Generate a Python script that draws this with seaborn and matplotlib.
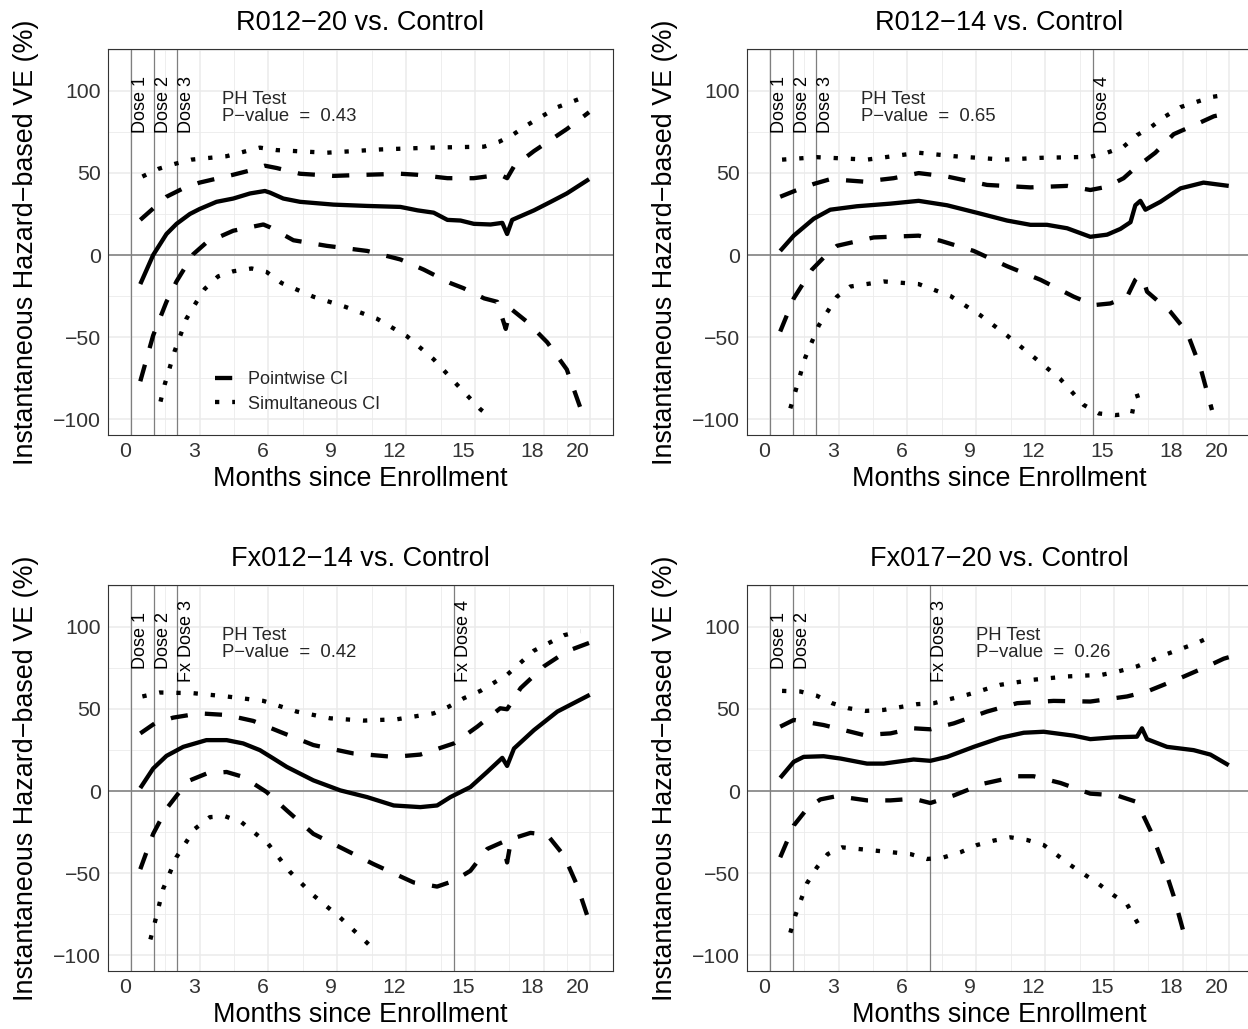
import matplotlib
matplotlib.use("Agg")
import matplotlib.pyplot as plt
from matplotlib.lines import Line2D
import pandas as pd
import seaborn as sns

sns.set_style("white")
plt.rcParams['font.family'] = ['Liberation Sans', 'DejaVu Sans']
plt.rcParams['axes.unicode_minus'] = True

# ---------------- data ----------------
titles = ["R012\u221220 vs. Control", "R012\u221214 vs. Control",
          "Fx012\u221214 vs. Control", "Fx017\u221220 vs. Control"]
p_values = ["0.43", "0.65", "0.42", "0.26"]
ph_text_x = [4.0, 4.0, 4.0, 9.0]
dose_times = [[0, 1, 2], [0, 1, 2, 14.1], [0, 1, 2, 14.1], [0, 1, 7.0]]
dose_labels = [["Dose 1", "Dose 2", "Dose 3"],
               ["Dose 1", "Dose 2", "Dose 3", "Dose 4"],
               ["Dose 1", "Dose 2", "Fx Dose 3", "Fx Dose 4"],
               ["Dose 1", "Dose 2", "Fx Dose 3"]]
x_ticks = [0, 3, 6, 9, 12, 15, 18, 20]
y_ticks = [-100, -50, 0, 50, 100]

# Panel 1: R012-20
p1_est_x = [0.42, 0.98, 1.56, 2.0, 2.58, 3.0, 3.74, 4.47, 5.2, 5.85, 6.07, 6.65, 7.38, 8.84, 10.3, 11.75, 12.5, 13.2, 13.8, 14.37, 14.95, 15.68, 16.19, 16.4, 16.62, 17.57, 18.3, 19.0, 19.97]
p1_est_y = [-17.7, 0, 12.8, 19, 25, 28, 32.4, 34.4, 37.5, 39, 38, 34.4, 32.4, 30.7, 29.9, 29.3, 27.2, 25.8, 21.4, 21, 19, 18.6, 19.6, 12.8, 21.4, 27.2, 32.4, 37.5, 46.2]
p1_pwu_x = [0.42, 1.56, 2.29, 3.0, 4.47, 5.2, 5.85, 6.36, 7.38, 8.84, 10.3, 11.75, 12.47, 13.8, 14.95, 16.1, 16.4, 16.7, 17.57, 19.0, 19.97]
p1_pwu_y = [21.4, 35.5, 40.6, 44.1, 48.9, 51.5, 54.4, 53, 49.5, 48.2, 48.9, 49.5, 48.9, 46.8, 46.8, 48.9, 46.8, 54, 63.3, 76.7, 87]
p1_pwl_x = [0.42, 0.98, 1.56, 2.0, 2.72, 3.3, 4.47, 5.78, 6.07, 7.09, 8.54, 10.3, 11.75, 12.77, 13.93, 14.5, 15.4, 15.97, 16.34, 16.55, 17.28, 18.15, 19.0, 19.6]
p1_pwl_y = [-76.9, -49, -28.5, -16, 0.4, 7.6, 14.8, 18.6, 16.9, 9, 5.6, 2.5, -2.7, -8.9, -17.1, -20.2, -26.4, -28.5, -45, -32.6, -40.8, -53.2, -69.7, -93.4]
p1_siu_x = [0.51, 1.19, 1.92, 2.65, 4.18, 5.63, 6.36, 8.54, 10.87, 13.06, 15.39, 16.04, 16.62, 17.28, 18.6, 19.97]
p1_siu_y = [47.8, 52.4, 55.5, 58.1, 60.2, 65.4, 63.9, 62.3, 64.3, 65.4, 66, 68.9, 73, 79.2, 90.1, 97.3]
p1_sil_x = [1.3, 1.48, 1.92, 2.43, 2.87, 3.23, 3.81, 4.47, 5.27, 5.92, 6.58, 7.96, 9.34, 10.73, 12.04, 13.2, 14.22, 15.24, 15.75]
p1_sil_y = [-89.3, -79, -58.4, -38.8, -28.5, -20.6, -13, -9.9, -8.2, -10.3, -17.1, -25.4, -31.5, -38.8, -49.5, -63.5, -79, -94, -99.6]

# Panel 2: R012-14
p2_est_x = [0.46, 1.05, 1.92, 2.64, 3.8, 5.26, 6.49, 7.73, 9.18, 10.34, 11.36, 12.08, 12.96, 13.97, 14.7, 15.28, 15.72, 15.93, 16.15, 16.37, 17.02, 17.9, 18.9, 20.0]
p2_est_y = [2.5, 11.8, 22.1, 27.6, 29.7, 31.3, 33, 30.3, 25.2, 21, 18.4, 18.4, 16.3, 11.1, 12.4, 15.9, 20, 30.3, 33, 27.6, 32.4, 40.6, 44.1, 42.1]
p2_pwu_x = [0.46, 1.12, 1.92, 2.64, 4.1, 5.4, 6.49, 7.73, 9.47, 11.36, 12.96, 13.97, 14.7, 15.42, 16.0, 16.37, 16.8, 17.6, 18.77, 19.35, 20.0]
p2_pwu_y = [35.5, 39.2, 43.3, 46.2, 44.7, 46.8, 49.9, 47.8, 42.7, 41.2, 42.1, 39.6, 41.6, 46.8, 54, 57.7, 62.3, 73.6, 80.8, 84.5, 86.5]
p2_pwl_x = [0.46, 1.05, 1.84, 2.35, 2.93, 4.53, 6.49, 7.44, 8.89, 10.34, 11.8, 13.25, 14.12, 14.84, 15.57, 15.93, 16.08, 16.3, 16.44, 17.46, 18.18, 18.77, 19.27]
p2_pwl_y = [-46.6, -26.4, -8.9, -1.6, 5.6, 10.7, 11.8, 8.7, 2.5, -6.8, -15.1, -25.4, -30.5, -29.5, -25.4, -15.1, -13, -16.1, -22.3, -34.6, -47, -68.7, -94.4]
p2_siu_x = [0.54, 2.06, 4.24, 6.49, 8.02, 10.2, 11.8, 13.97, 14.7, 15.42, 16.0, 16.59, 17.17, 17.9, 19.27, 19.93]
p2_siu_y = [58.1, 59.6, 58.1, 62.3, 60.2, 58.1, 59.2, 59.8, 62.3, 66, 73, 77.7, 83.9, 90.1, 96.3, 97.7]
p2_sil_x = [0.9, 1.12, 1.55, 2.14, 2.93, 3.51, 4.97, 6.49, 7.87, 9.18, 10.34, 11.5, 12.66, 13.68, 14.34, 15.06, 15.79, 15.93, 16.15]
p2_sil_y = [-93.4, -83.1, -62.5, -42.9, -25.4, -19.2, -16.1, -17.7, -24.9, -36.7, -49, -62.1, -75.5, -91.3, -96.5, -97.5, -96.5, -86.2, -85.2]

# Panel 3: Fx012-14
p3_est_x = [0.42, 0.98, 1.56, 2.29, 3.3, 4.18, 4.9, 5.63, 6.22, 6.8, 7.96, 9.13, 10.3, 11.46, 12.62, 13.35, 13.93, 14.8, 15.53, 16.19, 16.4, 16.7, 17.57, 18.59, 20.0]
p3_est_y = [1.8, 13.7, 21.4, 26.9, 31, 31, 29, 24.9, 19.8, 14.7, 6.5, 0.4, -3.7, -8.8, -9.8, -8.8, -3.7, 2.4, 11.6, 20.2, 15.3, 25.9, 37.1, 48.4, 58.6]
p3_pwu_x = [0.42, 1.05, 1.85, 3.0, 4.18, 5.34, 6.5, 7.96, 9.7, 11.46, 12.62, 14.08, 15.1, 16.1, 16.4, 16.99, 18.0, 19.0, 19.97]
p3_pwu_y = [35.1, 41.2, 44.7, 47.3, 46.3, 42.7, 36.1, 28, 22.9, 20.8, 22.2, 29, 39.2, 50.4, 49.8, 62.7, 75.9, 85.1, 90.2]
p3_pwl_x = [0.42, 0.98, 1.56, 2.07, 2.58, 3.3, 4.18, 4.9, 5.92, 6.8, 7.96, 9.13, 10.58, 12.33, 13.35, 14.08, 14.8, 15.53, 16.19, 16.4, 16.58, 17.42, 18.15, 18.88, 19.46, 19.97]
p3_pwl_y = [-47.6, -26.1, -10.8, -1.6, 6.5, 10.6, 11.6, 8.6, -0.6, -11.8, -26.1, -34.3, -44.5, -55.7, -58.2, -54.7, -48.6, -35.3, -31.2, -43.5, -29.2, -25.5, -26.7, -39.4, -57.8, -79.2]
p3_siu_x = [0.51, 1.27, 2.72, 4.18, 5.78, 7.23, 8.69, 10.15, 11.6, 13.2, 13.86, 14.51, 15.24, 16.4, 17.57, 18.88, 19.6]
p3_siu_y = [57.6, 60, 59.6, 57.6, 54.9, 48.4, 44.3, 42.9, 43.7, 47.3, 51.4, 56.5, 61, 70.8, 85.5, 94.9, 97.3]
p3_sil_x = [0.86, 1.05, 1.41, 1.99, 2.79, 3.45, 4.1, 4.83, 5.99, 6.94, 7.96, 9.13, 10.22, 10.75]
p3_sil_y = [-90.4, -80.2, -59.8, -40.4, -23.1, -15.9, -15.3, -19, -32.2, -49.2, -63.5, -77.1, -91.4, -98.5]

# Panel 4: Fx017-20
p4_est_x = [0.46, 1.05, 1.48, 2.35, 3.08, 4.24, 4.97, 6.27, 7.0, 7.73, 8.89, 10.05, 11.07, 11.94, 13.25, 13.97, 14.99, 16.0, 16.22, 16.44, 17.31, 18.47, 19.2, 20.0]
p4_est_y = [8, 17.8, 20.8, 21.2, 19.8, 16.7, 16.7, 19.2, 18.4, 20.8, 26.9, 32.4, 35.5, 36.1, 33.7, 31.6, 32.7, 33.1, 38.2, 31.6, 26.9, 24.9, 22.2, 15.7]
p4_pwu_x = [0.46, 1.05, 2.35, 4.1, 5.26, 6.27, 7.0, 8.02, 9.47, 10.78, 12.37, 13.97, 15.57, 16.44, 17.89, 19.06, 19.78, 20.0]
p4_pwu_y = [39.2, 43.3, 40.2, 34.1, 35.1, 38.2, 37.6, 41.2, 48.4, 53.5, 54.9, 54.5, 57.6, 60.6, 68.8, 75.9, 80.6, 81.5]
p4_pwl_x = [0.46, 1.05, 1.63, 2.21, 2.93, 4.24, 5.26, 6.27, 7.0, 8.02, 9.32, 10.78, 11.5, 12.67, 13.97, 15.13, 16.0, 16.59, 17.17, 17.6, 18.08]
p4_pwl_y = [-40.4, -21, -10.8, -5.1, -3.1, -5.7, -5.7, -4.7, -7.3, -2.7, 4.5, 9, 9, 4.9, -1.6, -2.7, -6.7, -24.1, -45.5, -63.9, -88.4]
p4_siu_x = [0.54, 1.34, 2.06, 2.72, 3.44, 4.17, 4.97, 6.42, 7.15, 8.6, 10.05, 11.5, 12.96, 14.48, 15.2, 16.0, 17.24, 18.62, 19.35]
p4_siu_y = [61, 60.6, 58, 53.5, 50.4, 48.8, 49.4, 52.9, 53.5, 58.6, 64.7, 67.8, 69.8, 70.8, 72.9, 75.9, 83.1, 90.2, 94.9]
p4_sil_x = [0.9, 1.12, 1.63, 2.06, 2.53, 3.15, 4.6, 6.13, 6.86, 7.58, 8.31, 9.03, 9.76, 10.49, 11.21, 11.94, 13.1, 14.34, 14.99, 15.57, 16.15]
p4_sil_y = [-86.3, -75.7, -56.1, -46.5, -38.4, -34.3, -36.3, -38.4, -41.4, -40.4, -37.3, -32.9, -30.2, -28.2, -29.8, -32.9, -45.1, -56.7, -63.5, -69, -83.3]

panels = [
    [(p1_est_x, p1_est_y, "est"), (p1_pwu_x, p1_pwu_y, "pw"), (p1_pwl_x, p1_pwl_y, "pw"),
     (p1_siu_x, p1_siu_y, "si"), (p1_sil_x, p1_sil_y, "si")],
    [(p2_est_x, p2_est_y, "est"), (p2_pwu_x, p2_pwu_y, "pw"), (p2_pwl_x, p2_pwl_y, "pw"),
     (p2_siu_x, p2_siu_y, "si"), (p2_sil_x, p2_sil_y, "si")],
    [(p3_est_x, p3_est_y, "est"), (p3_pwu_x, p3_pwu_y, "pw"), (p3_pwl_x, p3_pwl_y, "pw"),
     (p3_siu_x, p3_siu_y, "si"), (p3_sil_x, p3_sil_y, "si")],
    [(p4_est_x, p4_est_y, "est"), (p4_pwu_x, p4_pwu_y, "pw"), (p4_pwl_x, p4_pwl_y, "pw"),
     (p4_siu_x, p4_siu_y, "si"), (p4_sil_x, p4_sil_y, "si")],
]

# ---------------- styling ----------------
LW = 3.1
styles = {"est": "-", "pw": (0, (4, 4)), "si": (0, (1, 3))}

W, H = 1248, 1029
fig = plt.figure(figsize=(W / 100, H / 100), dpi=100)
positions = [
    (107.7, 49.3), (746.7, 49.3),
    (107.7, 585.3), (746.7, 585.3),
]
pw_w, pw_h = 505, 386

for i, (px, py) in enumerate(positions):
    ax = fig.add_axes([px / W, 1 - (py + pw_h) / H, pw_w / W, pw_h / H])
    ax.set_facecolor("white")
    ax.set_xlim(-1.0, 21.0)
    ax.set_ylim(-109.8, 125.3)

    # grid
    for xv in [1.5, 4.5, 7.5, 10.5, 13.5, 16.5, 19]:
        ax.axvline(xv, color="#EBEBEB", lw=0.6, zorder=0)
    for yv in [-75, -25, 25, 75, 125]:
        ax.axhline(yv, color="#EBEBEB", lw=0.6, zorder=0)
    for xv in x_ticks:
        ax.axvline(xv, color="#EBEBEB", lw=1.1, zorder=0)
    for yv in y_ticks:
        ax.axhline(yv, color="#EBEBEB", lw=1.1, zorder=0)

    ax.axhline(0, color="#8C8C8C", lw=1.3, zorder=1)
    for d, lab in zip(dose_times[i], dose_labels[i]):
        ax.axvline(d, color="#7F7F7F", lw=0.9, zorder=1)
        ax.text(d + 0.42, 91.5, lab, rotation=90, ha="center", va="center",
                fontsize=13.0, color="black", zorder=3)

    for xs, ys, kind in panels[i]:
        df = pd.DataFrame({"month": xs, "ve": ys})
        sns.lineplot(data=df, x="month", y="ve", ax=ax, color="black", lw=LW,
                     linestyle=styles[kind], estimator=None, sort=True,
                     solid_capstyle="butt", dash_capstyle="butt", zorder=2)

    ax.text(ph_text_x[i], 89.5, "PH Test\nP\u2212value  =  " + p_values[i],
            ha="left", va="center", fontsize=13.3, linespacing=1.02, zorder=3)

    ax.set_xticks(x_ticks)
    ax.set_yticks(y_ticks)
    ax.set_xticklabels([str(t) for t in x_ticks], ha="right")
    ax.set_yticklabels([str(t).replace("-", "\u2212") for t in y_ticks])
    ax.tick_params(axis="both", direction="out", length=2.9, width=0.8,
                   color="#333333", labelsize=15.3, labelcolor="#333333", pad=2.0)
    for sp in ax.spines.values():
        sp.set_visible(True)
        sp.set_color("#333333")
        sp.set_linewidth(0.8)
    ax.set_title(titles[i], fontsize=19.5, pad=14, color="black")
    ax.set_xlabel("Months since Enrollment", fontsize=19.4, labelpad=3.5, color="black")
    ax.set_ylabel("Instantaneous Hazard\u2212based VE (%)", fontsize=19.4,
                  labelpad=10, color="black")

    if i == 0:
        handles = [Line2D([], [], color="black", lw=LW, linestyle=styles["pw"], dash_capstyle="butt"),
                   Line2D([], [], color="black", lw=LW, linestyle=styles["si"], dash_capstyle="butt")]
        ax.legend(handles, ["Pointwise CI", "Simultaneous CI"], loc="center left",
                  bbox_to_anchor=(0.212, 0.112), frameon=False, fontsize=13.0,
                  handlelength=1.1, handletextpad=0.75, labelspacing=0.4,
                  borderpad=0, borderaxespad=0)

fig.savefig("out.png", dpi=100)
